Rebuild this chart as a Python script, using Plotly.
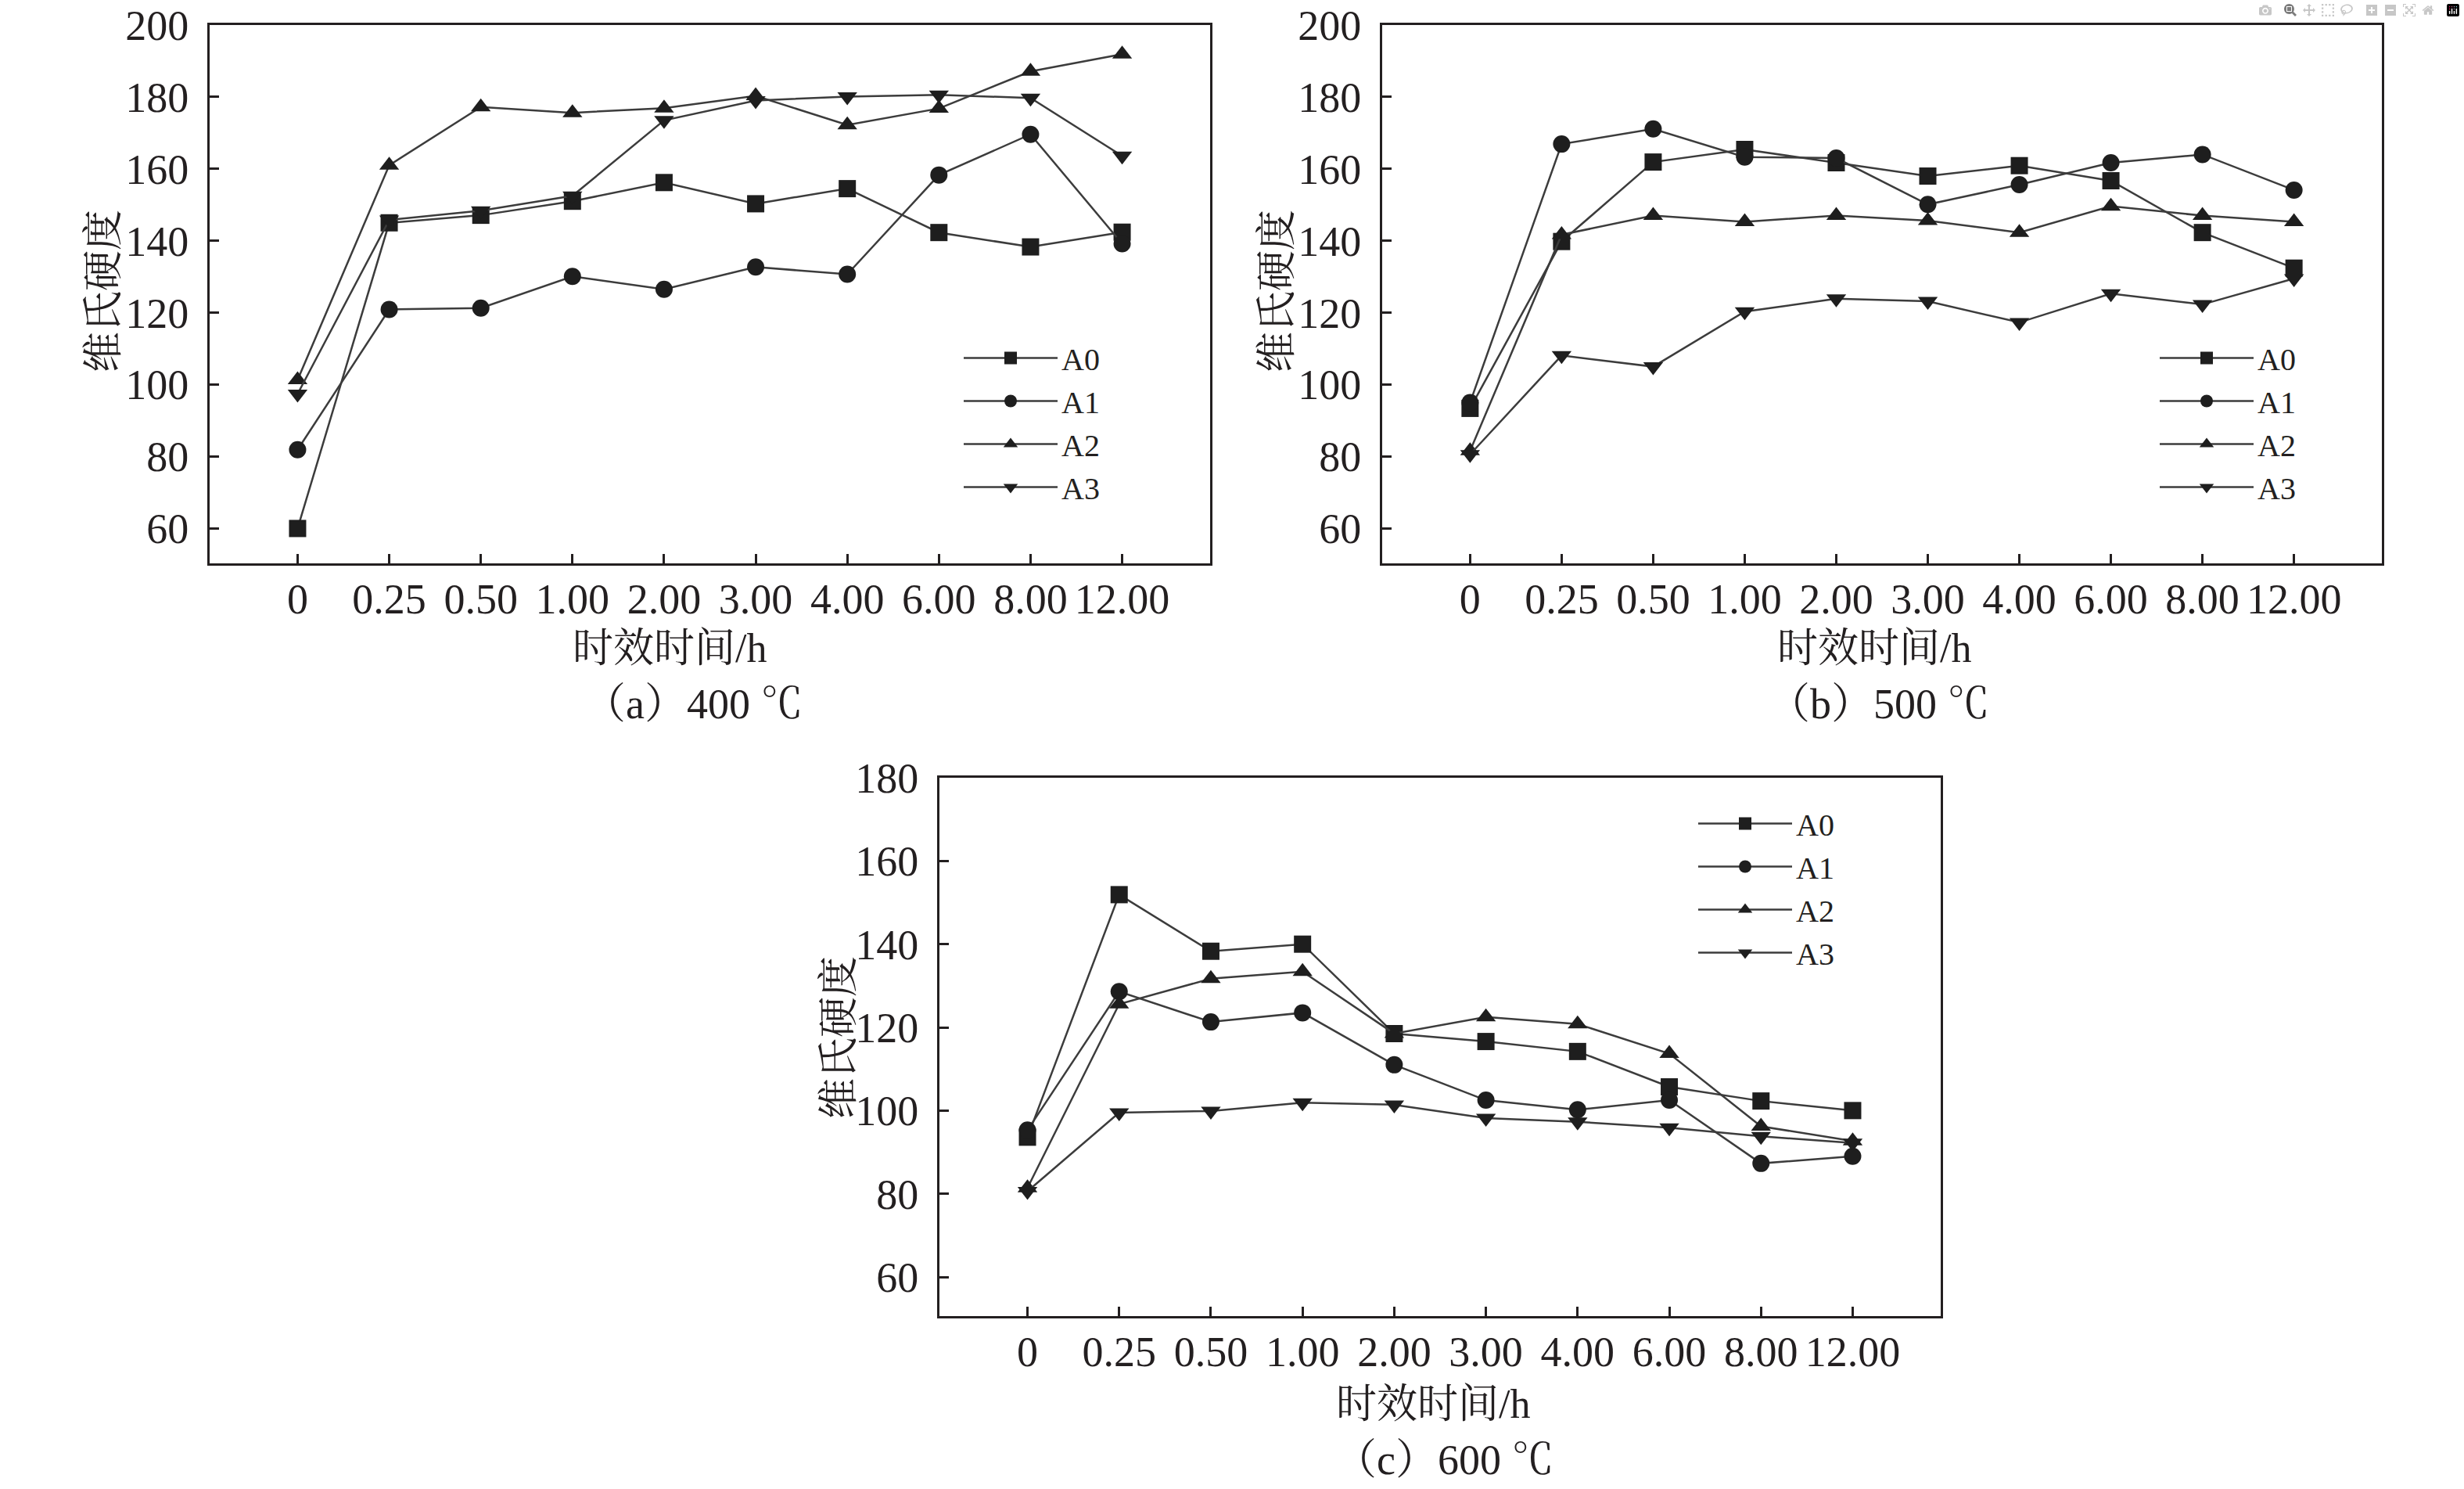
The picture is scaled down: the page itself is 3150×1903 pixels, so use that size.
import plotly.graph_objects as go

time_labels = ["0", "0.25", "0.50", "1.00", "2.00", "3.00", "4.00", "6.00", "8.00", "12.00"]
series_names = ["A0", "A1", "A2", "A3"]

# (a) 400 ℃
hv_400_a0 = [60.0, 145.0, 147.1, 151.0, 156.2, 150.3, 154.5, 142.3, 138.3, 142.4]
hv_400_a1 = [81.9, 120.9, 121.3, 130.1, 126.5, 132.7, 130.7, 158.3, 169.6, 139.2]
hv_400_a2 = [101.3, 161.0, 177.2, 175.6, 176.9, 180.3, 172.2, 176.8, 187.1, 191.9]
hv_400_a3 = [97.4, 145.8, 148.4, 152.5, 173.5, 179.0, 180.1, 180.6, 179.7, 163.6]

# (b) 500 ℃
hv_500_a0 = [93.4, 139.8, 161.9, 165.4, 161.7, 158.0, 160.9, 156.7, 142.3, 132.4]
hv_500_a1 = [95.0, 166.9, 171.1, 163.3, 163.0, 150.1, 155.6, 161.7, 164.0, 154.1]
hv_500_a2 = [81.6, 141.7, 147.0, 145.3, 147.0, 145.6, 142.3, 149.6, 147.0, 145.3]
hv_500_a3 = [80.6, 108.1, 105.0, 120.3, 123.9, 123.2, 117.3, 125.3, 122.3, 129.5]

# (c) 600 ℃
hv_600_a0 = [93.6, 151.9, 138.3, 140.0, 118.5, 116.6, 114.2, 105.7, 102.3, 100.0]
hv_600_a1 = [95.3, 128.6, 121.3, 123.5, 111.0, 102.5, 100.2, 102.5, 87.3, 89.0]
hv_600_a2 = [81.4, 125.6, 131.7, 133.4, 118.5, 122.5, 120.8, 113.7, 96.2, 92.7]
hv_600_a3 = [80.6, 99.5, 99.9, 101.9, 101.4, 98.2, 97.3, 95.9, 93.8, 92.2]

SERIF = "Times New Roman, Liberation Serif, Noto Serif CJK SC, Noto Sans CJK SC"
INK = "#231f20"
symbols = ["square", "circle", "triangle-up", "triangle-down"]

panels = [
    dict(values=[hv_400_a0, hv_400_a1, hv_400_a2, hv_400_a3], caption="（a）400 ℃"),
    dict(values=[hv_500_a0, hv_500_a1, hv_500_a2, hv_500_a3], caption="（b）500 ℃"),
    dict(values=[hv_600_a0, hv_600_a1, hv_600_a2, hv_600_a3], caption="（c）600 ℃"),
]

W, H = 3150, 1903
# plot boxes in pixels: left, right, top, bottom
boxes = [(268, 1547, 32, 720), (1767, 3045, 32, 720), (1201, 2481, 994, 1682)]
yranges = [[50.3, 200], [50.3, 200], [50.6, 180]]
xtitle_x = [856, 2396, 1832]
caption_x = [886, 2402, 1846]
title_y = [(828, 900), (828, 900), (1794, 1866)]
ytitle_pos = [(132, 372), (1632, 372), (1072, 1326)]
legend_pos = [(1227, 425), (2756, 425), (2166, 1020)]

fig = go.Figure()

for p, panel in enumerate(panels):
    sfx = "" if p == 0 else str(p + 1)
    leg = "legend" + sfx
    for i, name in enumerate(series_names):
        fig.add_trace(go.Scatter(
            x=time_labels,
            y=panel["values"][i],
            name=name,
            mode="lines+markers",
            line=dict(color="#3c3c3c", width=2.5),
            marker=dict(symbol=symbols[i], size=22, color="#1e1e1e"),
            xaxis="x" + sfx,
            yaxis="y" + sfx,
            legend=leg,
        ))

layout = dict(
    width=W,
    height=H,
    margin=dict(l=0, r=0, t=0, b=0, autoexpand=False),
    paper_bgcolor="white",
    plot_bgcolor="white",
    font=dict(family=SERIF, color=INK),
    annotations=[],
)


def note(text, x, y, size, angle=0):
    return dict(text=text, x=x / W, y=1 - y / H, xref="paper", yref="paper",
                xanchor="center", yanchor="middle", showarrow=False,
                textangle=angle, font=dict(size=size, color=INK))


for p, panel in enumerate(panels):
    sfx = "" if p == 0 else str(p + 1)
    l, r, t, b = boxes[p]
    layout["xaxis" + sfx] = dict(
        domain=[l / W, r / W],
        anchor="y" + sfx,
        type="category",
        range=[-0.96, 9.96],
        automargin=False,
        showline=True, linecolor=INK, linewidth=3, mirror=True,
        ticks="inside", ticklen=12, tickwidth=3, tickcolor=INK,
        showgrid=False, zeroline=False,
        ticklabelstandoff=-4,
        tickfont=dict(family=SERIF, size=54, color=INK),
    )
    layout["yaxis" + sfx] = dict(
        domain=[1 - b / H, 1 - t / H],
        anchor="x" + sfx,
        range=yranges[p],
        tick0=0, dtick=20,
        automargin=False,
        showline=True, linecolor=INK, linewidth=3, mirror=True,
        ticks="inside", ticklen=12, tickwidth=3, tickcolor=INK,
        showgrid=False, zeroline=False,
        ticklabelstandoff=13,
        tickfont=dict(family=SERIF, size=54, color=INK),
    )
    lx, ly = legend_pos[p]
    layout["legend" + sfx] = dict(
        x=lx / W, y=1 - ly / H, xanchor="left", yanchor="top",
        xref="paper", yref="paper",
        bgcolor="rgba(0,0,0,0)",
        font=dict(family=SERIF, size=40, color=INK),
        itemwidth=120,
        tracegroupgap=0,
    )
    yx, yy = ytitle_pos[p]
    layout["annotations"] += [
        note("维氏硬度", yx, yy, 52, angle=-90),
        note("时效时间/h", xtitle_x[p], title_y[p][0], 52),
        note(panel["caption"], caption_x[p], title_y[p][1], 54),
    ]

fig.update_layout(**layout)

fig.write_html("out.html", post_script="document.body.style.margin='0px';")
